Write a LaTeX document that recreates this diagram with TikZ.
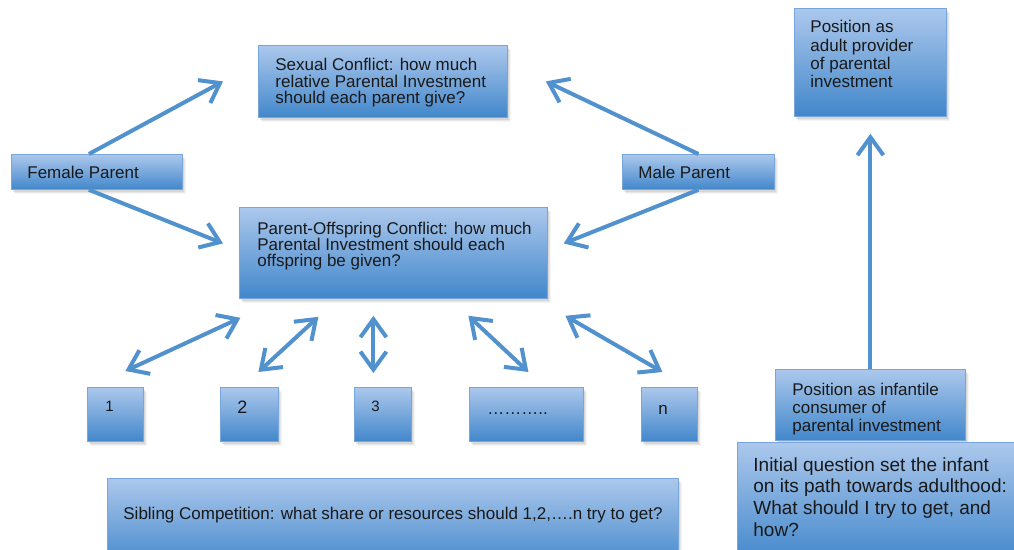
\documentclass[tikz,border=0pt]{standalone}
\usepackage{fontspec}
\setmainfont{Liberation Sans}
\usetikzlibrary{arrows.meta,shadows}
\definecolor{boxtop}{RGB}{172,200,236}
\definecolor{boxmid}{RGB}{128,170,222}
\definecolor{boxbot}{RGB}{66,135,203}
\definecolor{boxedge}{RGB}{120,165,220}
\definecolor{arrowblue}{RGB}{80,145,206}
\definecolor{ink}{RGB}{25,25,25}
\newcommand{\boxtxt}[5]{\parbox[c][#2pt][t]{#1pt}{\raggedright\leftskip=#3pt\relax\vspace*{#4pt}#5}}
\begin{document}
\begin{tikzpicture}[x=1pt,y=-1pt,
  pibox/.style={draw=boxedge,line width=0.8pt,top color=boxtop,middle color=boxmid,bottom color=boxbot,
    inner sep=0pt,anchor=north west,text=ink,font=\fontsize{17}{16.5}\selectfont,
    drop shadow={shadow xshift=4pt,shadow yshift=-5pt,opacity=0.08},
    drop shadow={shadow xshift=3pt,shadow yshift=-4pt,opacity=0.12},
    drop shadow={shadow xshift=2pt,shadow yshift=-3pt,opacity=0.15}},
  piarrow/.style={draw=arrowblue,line width=4pt,-{Straight Barb[length=18pt,width=26pt]}},
  pidouble/.style={piarrow,{Straight Barb[length=18pt,width=26pt]}-{Straight Barb[length=18pt,width=26pt]}}]
 \useasboundingbox (0,0) rectangle (1014,549);
 % parents and the two conflicts
 \node[pibox] (sexual) at (258,45) {\boxtxt{249}{72}{17}{13}{Sexual Conflict: how much\\relative Parental Investment\\should each parent give?}};
 \node[pibox] (female) at (11,154) {\boxtxt{171}{35}{16}{12}{Female Parent}};
 \node[pibox] (male) at (622,154) {\boxtxt{152}{35}{16}{12}{Male Parent}};
 \node[pibox,font=\fontsize{17}{16}\selectfont] (poc) at (239,207) {\boxtxt{308}{91}{18}{15}{Parent-Offspring Conflict: how much\\Parental Investment should each\\offspring be given?}};
 % offspring
 \node[pibox] (b1) at (87,387) {\boxtxt{56}{54}{18}{13.3}{\fontsize{15}{15}\selectfont 1}};
 \node[pibox] (b2) at (220,387) {\boxtxt{58}{54}{17}{13.1}{\fontsize{18}{18}\selectfont 2}};
 \node[pibox] (b3) at (354,387) {\boxtxt{57}{54}{17}{13.3}{\fontsize{15}{15}\selectfont 3}};
 \node[pibox] (b4) at (469,387) {\boxtxt{114}{54}{18}{15.8}{\vphantom{1}………..}};
 \node[pibox] (b5) at (641,387) {\boxtxt{56}{54}{17}{15.8}{\vphantom{1}n}};
 \node[pibox] (sibling) at (107,478) {\boxtxt{571}{90}{16}{29}{Sibling Competition: what share or resources should 1,2,….n try to get?}};
 % right column
 \node[pibox,font=\fontsize{17}{18.3}\selectfont] (adult) at (794,8) {\boxtxt{152}{108}{16}{12}{Position as\\adult provider\\of parental\\investment}};
 \node[pibox,font=\fontsize{17}{17.8}\selectfont] (infant) at (775,369) {\boxtxt{190}{71}{17}{14}{Position as infantile\\consumer of\\parental investment}};
 \node[pibox,font=\fontsize{19}{21.7}\selectfont] (initial) at (737,442) {\boxtxt{285}{120}{16}{15}{Initial question set the infant\\on its path towards adulthood:\\What should I try to get, and\\how?}};
 % arrows
 \draw[piarrow] ([xshift=-8pt]female.north) -- ([xshift=-35pt]sexual.west);
 \draw[piarrow] ([xshift=-8pt]female.south) -- ([xshift=-16pt,yshift=9.5pt]poc.west);
 \draw[piarrow] (male.north) -- ([xshift=38pt]sexual.east);
 \draw[piarrow] (male.south) -- ([xshift=16pt,yshift=9.5pt]poc.east);
 \draw[pidouble] ([xshift=10pt,yshift=16pt]b1.north) -- ([xshift=-153pt,yshift=-19pt]poc.south);
 \draw[pidouble] ([xshift=9pt,yshift=15pt]b2.north) -- ([xshift=-75pt,yshift=-18pt]poc.south);
 \draw[pidouble] ([xshift=-9.5pt,yshift=14pt]b3.north) -- ([xshift=-20pt,yshift=-17pt]poc.south);
 \draw[pidouble] ([xshift=75pt,yshift=-17pt]poc.south) -- ([xshift=2pt,yshift=15pt]b4.north);
 \draw[pidouble] ([xshift=172pt,yshift=-17pt]poc.south) -- ([xshift=-7pt,yshift=15pt]b5.north);
 \draw[piarrow] (infant.north) -- ([yshift=-17pt]adult.south);
\end{tikzpicture}
\end{document}
